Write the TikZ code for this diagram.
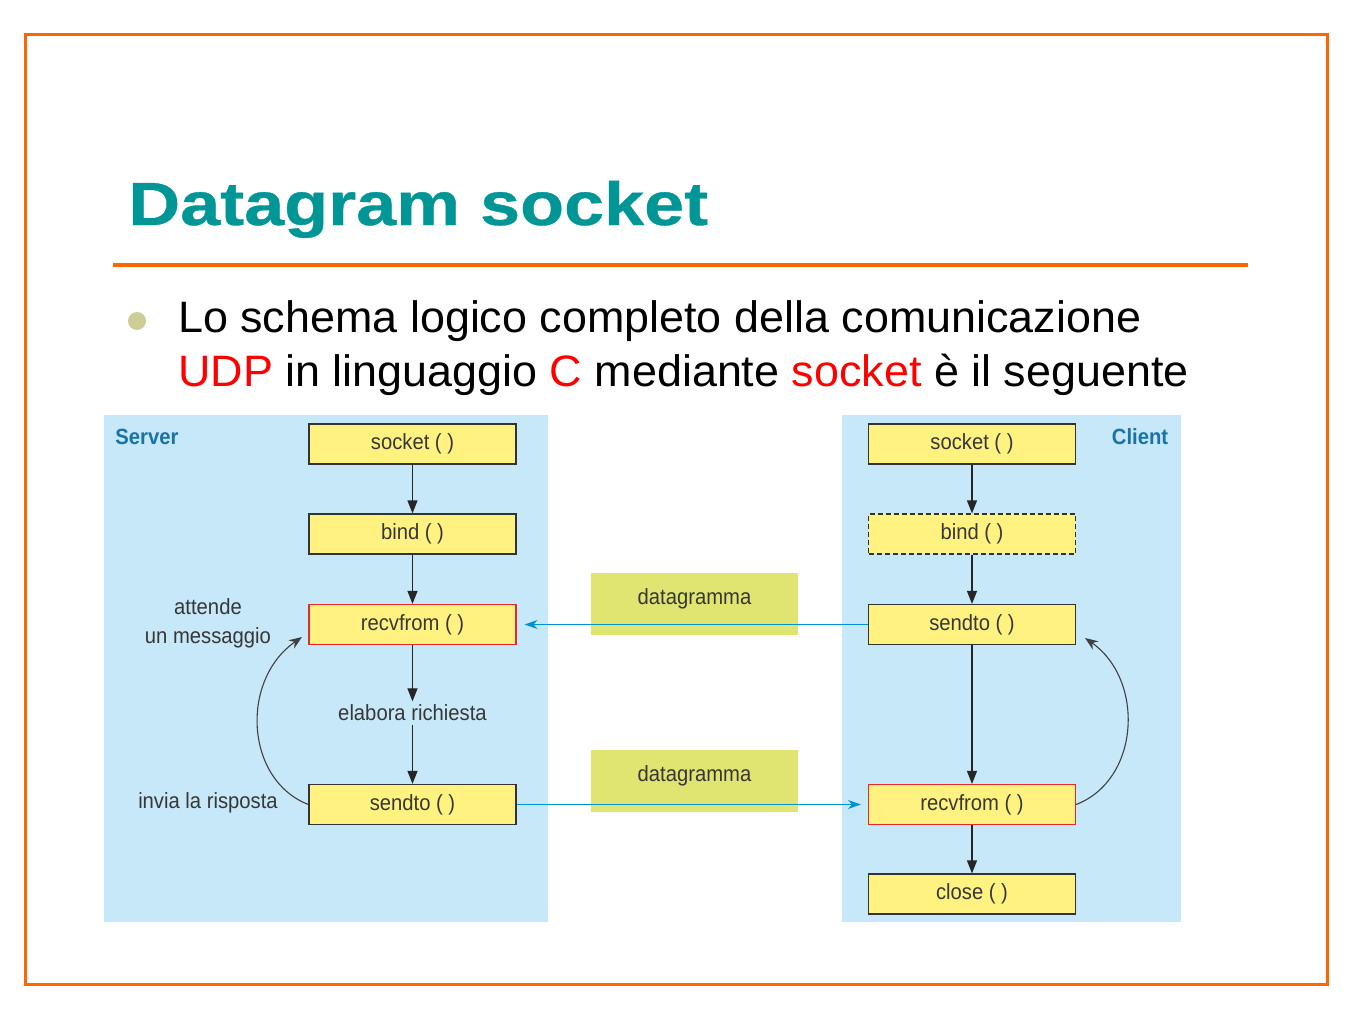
\documentclass[tikz,border=0pt]{standalone}
\usepackage{fontspec}
\setmainfont{Liberation Sans}
\newfontfamily\cond[FakeStretch=0.92]{Liberation Sans}
\newfontfamily\titlefont[FakeStretch=1.18,FakeBold=0.6]{Liberation Sans Bold}
\newfontfamily\bodyfont[FakeStretch=1.02]{Liberation Sans}
\usetikzlibrary{arrows.meta}
\definecolor{frameor}{RGB}{255,102,0}
\definecolor{titleteal}{RGB}{0,150,150}
\definecolor{panelblue}{RGB}{198,232,248}
\definecolor{boxyellow}{RGB}{255,242,128}
\definecolor{dgreen}{RGB}{224,228,112}
\definecolor{linkblue}{RGB}{0,145,210}
\definecolor{labteal}{RGB}{25,115,165}
\definecolor{txtgray}{RGB}{55,55,55}
\definecolor{bulletc}{RGB}{205,205,150}
\definecolor{boxred}{RGB}{235,40,40}
\tikzset{
  fnbox/.style={draw=black!80, fill=boxyellow, line width=1.2pt, minimum width=207pt, minimum height=40pt, inner sep=0pt, font=\cond\fontsize{22}{24}\selectfont, text=txtgray},
  redbox/.style={fnbox, draw=boxred},
  dashbox/.style={fnbox, dashed, dash pattern=on 5pt off 3pt},
  dgbox/.style={fill=dgreen, minimum width=207pt, minimum height=62pt, inner sep=0pt},
  flow/.style={-{Triangle[length=13pt,width=10pt]}, line width=1.2pt, draw=black!85},
  curv/.style={-{Stealth[length=13pt,width=10pt]}, line width=1.1pt, draw=black!75},
  link/.style={-{Stealth[length=13pt,width=9pt]}, line width=1.3pt, draw=linkblue},
  lab/.style={font=\cond\fontsize{22}{29}\selectfont, text=txtgray, align=center},
  side/.style={font=\cond\bfseries\fontsize{22}{24}\selectfont, text=labteal}
}
\begin{document}
\begin{tikzpicture}[x=1pt,y=-1pt]
\useasboundingbox (0,0) rectangle (1350,1012);
\fill[white] (0,0) rectangle (1350,1012);
\draw[frameor, line width=3pt] (25,34) rectangle (1327,984);
\node[anchor=base west, inner sep=0pt, text=titleteal, font=\titlefont\fontsize{61}{70}\selectfont] (title) at (128,225) {Datagram socket};
\draw[frameor, line width=4pt] (113,265) -- (1248,265);
\fill[bulletc] (137,321) circle (9pt);
\node[anchor=base west, inner sep=0pt, font=\bodyfont\fontsize{44}{55}\selectfont, align=left] (body) at (178,332) {Lo schema logico completo della comunicazione};
\node[anchor=base west, inner sep=0pt, font=\bodyfont\fontsize{44}{55}\selectfont, align=left] (body2) at (178,386) {\textcolor{red}{UDP} in linguaggio \textcolor{red}{C} mediante \textcolor{red}{socket} è il seguente};
% panels
\fill[panelblue] (104,415) rectangle (548,922);
\fill[panelblue] (842,415) rectangle (1181,922);
\node[side] (srv) at (147,437) {Server};
\node[side] (cli) at (1140,437) {Client};
% datagram boxes
\node[dgbox] (dg1) at (694.5,604) {};
\node[anchor=center, font=\cond\fontsize{22}{24}\selectfont, text=txtgray] (dg1t) at (694.5,599) {datagramma};
\node[dgbox] (dg2) at (694.5,781) {};
\node[anchor=center, font=\cond\fontsize{22}{24}\selectfont, text=txtgray] (dg2t) at (694.5,776) {datagramma};
% server
\node[fnbox] (ssock) at (412.5,444) {socket ( )};
\node[fnbox] (sbind) at (412.5,534) {bind ( )};
\node[redbox] (srecv) at (412.5,624.5) {recvfrom ( )};
\node[lab] (elab) at (412.5,713) {elabora richiesta};
\node[fnbox] (ssend) at (412.5,804.5) {sendto ( )};
\node[lab] (att) at (208,623) {attende\\un messaggio};
\node[lab] (inv) at (208,803) {invia la risposta};
% client
\node[fnbox] (csock) at (972,444) {socket ( )};
\node[dashbox] (cbind) at (972,534) {bind ( )};
\node[fnbox] (csend) at (972,624.5) {sendto ( )};
\node[redbox] (crecv) at (972,804.5) {recvfrom ( )};
\node[fnbox] (cclose) at (972,894) {close ( )};
% flows
\draw[flow] (ssock) -- (sbind);
\draw[flow] (sbind) -- (srecv);
\draw[flow] (srecv) -- (elab);
\draw[flow] (elab) -- (ssend);
\draw[flow] (csock) -- (cbind);
\draw[flow] (cbind) -- (csend);
\draw[flow] (csend) -- (crecv);
\draw[flow] (crecv) -- (cclose);
% curves
\coordinate (sl) at (302,637);
\coordinate (cr) at (1085,638);
\draw[curv] (ssend.west) .. controls (245,780) and (240,680) .. (sl);
\draw[curv] (crecv.east) .. controls (1140,780) and (1145,680) .. (cr);
% links
\draw[link] (csend.west) -- ([xshift=8pt]srecv.east);
\draw[link] (ssend.east) -- ([xshift=-7pt]crecv.west);
\end{tikzpicture}
\end{document}
